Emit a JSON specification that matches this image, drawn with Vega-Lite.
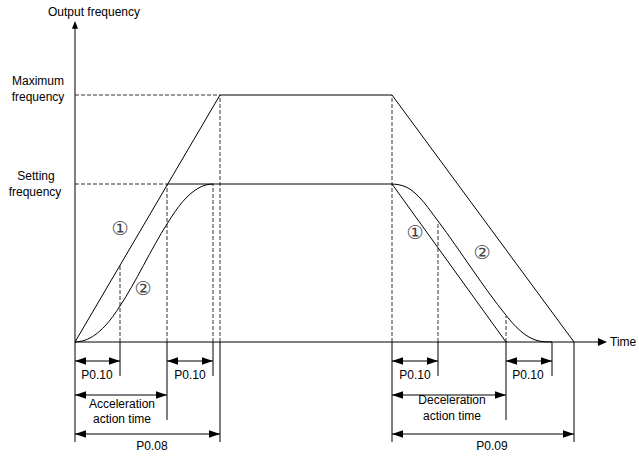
{
  "$schema": "https://vega.github.io/schema/vega-lite/v6.json",
  "width": 639,
  "height": 456,
  "autosize": "none",
  "padding": 0,
  "background": "white",
  "config": {"view": {"stroke": null}},
  "datasets": {
    "solid": [
      {"t1": 0, "f1": -100, "t2": 0, "f2": 316},
      {"t1": 0, "f1": 0, "t2": 527, "f2": 0},
      {"t1": 0, "f1": 0, "t2": 145, "f2": 247},
      {"t1": 145, "f1": 247, "t2": 317, "f2": 247},
      {"t1": 92, "f1": 158, "t2": 317, "f2": 158},
      {"t1": 317, "f1": 158, "t2": 431, "f2": 0},
      {"t1": 317, "f1": 247, "t2": 499, "f2": 0},
      {"t1": 45, "f1": 0, "t2": 45, "f2": -34},
      {"t1": 92, "f1": 0, "t2": 92, "f2": -78},
      {"t1": 138, "f1": 0, "t2": 138, "f2": -34},
      {"t1": 145, "f1": 0, "t2": 145, "f2": -100},
      {"t1": 317, "f1": 0, "t2": 317, "f2": -100},
      {"t1": 363, "f1": 0, "t2": 363, "f2": -34},
      {"t1": 431, "f1": 0, "t2": 431, "f2": -78},
      {"t1": 477, "f1": 0, "t2": 477, "f2": -34},
      {"t1": 499, "f1": 0, "t2": 499, "f2": -100},
      {"t1": 0, "f1": -19, "t2": 45, "f2": -19},
      {"t1": 92, "f1": -19, "t2": 138, "f2": -19},
      {"t1": 0, "f1": -53, "t2": 92, "f2": -53},
      {"t1": 0, "f1": -92, "t2": 145, "f2": -92},
      {"t1": 317, "f1": -19, "t2": 363, "f2": -19},
      {"t1": 431, "f1": -19, "t2": 477, "f2": -19},
      {"t1": 317, "f1": -53, "t2": 431, "f2": -53},
      {"t1": 317, "f1": -92, "t2": 499, "f2": -92}
    ],
    "dashed": [
      {"t1": 0, "f1": 247, "t2": 145, "f2": 247},
      {"t1": 0, "f1": 158, "t2": 92, "f2": 158},
      {"t1": 45, "f1": 0, "t2": 45, "f2": 77},
      {"t1": 92, "f1": 0, "t2": 92, "f2": 158},
      {"t1": 138, "f1": 0, "t2": 138, "f2": 158},
      {"t1": 145, "f1": 0, "t2": 145, "f2": 247},
      {"t1": 317, "f1": 0, "t2": 317, "f2": 247},
      {"t1": 363, "f1": 0, "t2": 363, "f2": 120},
      {"t1": 431, "f1": 0, "t2": 431, "f2": 26}
    ],
    "curves": [
      {"id": "acc", "t": 0, "f": 0},
      {"id": "acc", "t": 10, "f": 1.8},
      {"id": "acc", "t": 20, "f": 7.1},
      {"id": "acc", "t": 30, "f": 16},
      {"id": "acc", "t": 38, "f": 25.7},
      {"id": "acc", "t": 45, "f": 36},
      {"id": "acc", "t": 92, "f": 118},
      {"id": "acc", "t": 100, "f": 130.3},
      {"id": "acc", "t": 108, "f": 140.7},
      {"id": "acc", "t": 116, "f": 148.7},
      {"id": "acc", "t": 124, "f": 154.2},
      {"id": "acc", "t": 131, "f": 157.1},
      {"id": "acc", "t": 138, "f": 158},
      {"id": "dec", "t": 317, "f": 158},
      {"id": "dec", "t": 325, "f": 157},
      {"id": "dec", "t": 333, "f": 154},
      {"id": "dec", "t": 341, "f": 148},
      {"id": "dec", "t": 349, "f": 139.5},
      {"id": "dec", "t": 357, "f": 129},
      {"id": "dec", "t": 363, "f": 121},
      {"id": "dec", "t": 431, "f": 26.8},
      {"id": "dec", "t": 437, "f": 19.5},
      {"id": "dec", "t": 445, "f": 11.5},
      {"id": "dec", "t": 453, "f": 5.5},
      {"id": "dec", "t": 461, "f": 1.8},
      {"id": "dec", "t": 469, "f": 0.3},
      {"id": "dec", "t": 477, "f": 0}
    ],
    "heads": [
      {"t": 0, "f": 321, "dir": "u"},
      {"t": 532, "f": 0, "dir": "R"},
      {"t": 0, "f": -19, "dir": "l"}, {"t": 45, "f": -19, "dir": "r"},
      {"t": 92, "f": -19, "dir": "l"}, {"t": 138, "f": -19, "dir": "r"},
      {"t": 0, "f": -53, "dir": "l"}, {"t": 92, "f": -53, "dir": "r"},
      {"t": 0, "f": -92, "dir": "l"}, {"t": 145, "f": -92, "dir": "r"},
      {"t": 317, "f": -19, "dir": "l"}, {"t": 363, "f": -19, "dir": "r"},
      {"t": 431, "f": -19, "dir": "l"}, {"t": 477, "f": -19, "dir": "r"},
      {"t": 317, "f": -53, "dir": "l"}, {"t": 431, "f": -53, "dir": "r"},
      {"t": 317, "f": -92, "dir": "l"}, {"t": 499, "f": -92, "dir": "r"}
    ],
    "labels": [
      {"t": 19, "f": 330, "text": "Output frequency"},
      {"t": -37, "f": 261, "text": "Maximum"},
      {"t": -37, "f": 245, "text": "frequency"},
      {"t": -39, "f": 166, "text": "Setting"},
      {"t": -40, "f": 150, "text": "frequency"},
      {"t": 22, "f": -33, "text": "P0.10"},
      {"t": 115, "f": -33, "text": "P0.10"},
      {"t": 340, "f": -33, "text": "P0.10"},
      {"t": 453, "f": -33, "text": "P0.10"},
      {"t": 47, "f": -62, "text": "Acceleration"},
      {"t": 47, "f": -77, "text": "action time"},
      {"t": 377, "f": -58, "text": "Deceleration"},
      {"t": 377, "f": -74, "text": "action time"},
      {"t": 77, "f": -104, "text": "P0.08"},
      {"t": 417, "f": -104, "text": "P0.09"}
    ],
    "axislabel": [
      {"t": 535, "f": 0, "text": "Time"}
    ],
    "marks": [
      {"t": 45, "f": 113, "text": "①"},
      {"t": 68, "f": 53, "text": "②"},
      {"t": 340, "f": 109, "text": "①"},
      {"t": 407, "f": 89, "text": "②"}
    ]
  },
  "layer": [
    {
      "data": {"name": "dashed"},
      "mark": {"type": "rule", "color": "#333333", "strokeWidth": 1, "strokeDash": [4, 2]},
      "encoding": {
        "x": {"field": "t1", "type": "quantitative", "scale": {"domain": [-75, 564], "nice": false, "zero": false}, "axis": null},
        "x2": {"field": "t2"},
        "y": {"field": "f1", "type": "quantitative", "scale": {"domain": [-114, 342], "nice": false, "zero": false}, "axis": null},
        "y2": {"field": "f2"}
      }
    },
    {
      "data": {"name": "solid"},
      "mark": {"type": "rule", "color": "#000000", "strokeWidth": 1},
      "encoding": {
        "x": {"field": "t1", "type": "quantitative", "scale": {"domain": [-75, 564], "nice": false, "zero": false}, "axis": null},
        "x2": {"field": "t2"},
        "y": {"field": "f1", "type": "quantitative", "scale": {"domain": [-114, 342], "nice": false, "zero": false}, "axis": null},
        "y2": {"field": "f2"}
      }
    },
    {
      "data": {"name": "curves"},
      "mark": {"type": "line", "color": "#000000", "strokeWidth": 1, "interpolate": "monotone"},
      "encoding": {
        "x": {"field": "t", "type": "quantitative", "scale": {"domain": [-75, 564], "nice": false, "zero": false}, "axis": null},
        "y": {"field": "f", "type": "quantitative", "scale": {"domain": [-114, 342], "nice": false, "zero": false}, "axis": null},
        "detail": {"field": "id", "type": "nominal"}
      }
    },
    {
      "data": {"name": "heads"},
      "mark": {"type": "point", "filled": true, "color": "#000000", "opacity": 1, "size": 121, "strokeWidth": 0},
      "encoding": {
        "x": {"field": "t", "type": "quantitative", "scale": {"domain": [-75, 564], "nice": false, "zero": false}, "axis": null},
        "y": {"field": "f", "type": "quantitative", "scale": {"domain": [-114, 342], "nice": false, "zero": false}, "axis": null},
        "shape": {"field": "dir", "type": "nominal", "legend": null,
          "scale": {"domain": ["l", "r", "u", "R"],
            "range": ["M0,0L2,-0.7L2,0.7Z", "M0,0L-2,-0.7L-2,0.7Z", "M0,0L-0.55,1.4L0.55,1.4Z", "M0,0L-1.65,-0.72L-1.65,0.72Z"]}}
      }
    },
    {
      "data": {"name": "labels"},
      "mark": {"type": "text", "font": "Liberation Sans", "fontSize": 12, "color": "#000000", "align": "center", "baseline": "middle"},
      "encoding": {
        "x": {"field": "t", "type": "quantitative", "scale": {"domain": [-75, 564], "nice": false, "zero": false}, "axis": null},
        "y": {"field": "f", "type": "quantitative", "scale": {"domain": [-114, 342], "nice": false, "zero": false}, "axis": null},
        "text": {"field": "text", "type": "nominal"}
      }
    },
    {
      "data": {"name": "axislabel"},
      "mark": {"type": "text", "font": "Liberation Sans", "fontSize": 12, "color": "#000000", "align": "left", "baseline": "middle"},
      "encoding": {
        "x": {"field": "t", "type": "quantitative", "scale": {"domain": [-75, 564], "nice": false, "zero": false}, "axis": null},
        "y": {"field": "f", "type": "quantitative", "scale": {"domain": [-114, 342], "nice": false, "zero": false}, "axis": null},
        "text": {"field": "text", "type": "nominal"}
      }
    },
    {
      "data": {"name": "marks"},
      "mark": {"type": "text", "font": "DejaVu Sans", "fontSize": 19, "color": "#444444", "align": "center", "baseline": "middle"},
      "encoding": {
        "x": {"field": "t", "type": "quantitative", "scale": {"domain": [-75, 564], "nice": false, "zero": false}, "axis": null},
        "y": {"field": "f", "type": "quantitative", "scale": {"domain": [-114, 342], "nice": false, "zero": false}, "axis": null},
        "text": {"field": "text", "type": "nominal"}
      }
    }
  ]
}
